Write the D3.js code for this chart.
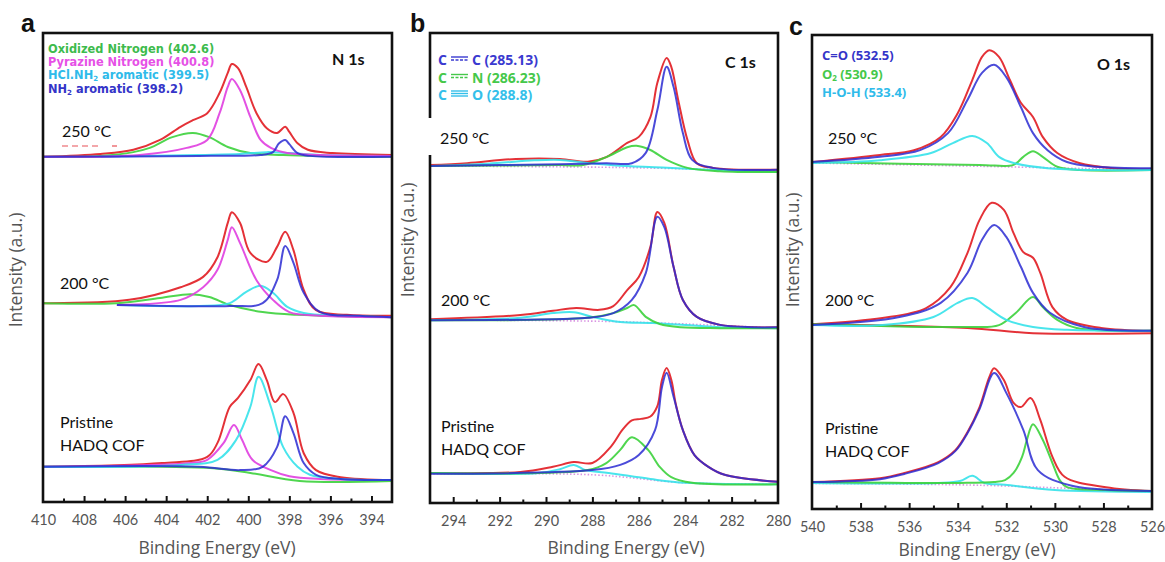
<!DOCTYPE html>
<html><head><meta charset="utf-8">
<script src="https://cdn.jsdelivr.net/npm/d3@7"></script>
<style>body{margin:0;background:#fff}svg{display:block}</style>
</head><body><svg id="chart" width="1165" height="562"></svg>
<script>
// ---------- tick labels ----------
const nTickLabels = [410,408,406,404,402,400,398,396,394];
const cTickLabels = [294,292,290,288,286,284,282,280];
const oTickLabels = [540,538,536,534,532,530,528,526];

// ---------- panel a : N 1s  [binding energy, intensity] ----------
const a250Red = [[410,73.6],[407.2,74.2],[405.6,75.1],[404.3,77.2],[403.3,80.0],[402.7,81.4],[402.0,82.9],[401.4,87.2],[401.0,91.5],[400.8,93.4],[400.5,92.5],[400.1,88.5],[399.6,82.9],[399.1,79.7],[398.6,78.7],[398.2,80.0],[398.0,78.9],[397.6,76.5],[397.1,75.1],[395.9,74.4],[393,74.0]];
const a250Green = [[410,73.6],[407.2,73.8],[405.6,74.6],[404.8,75.5],[403.7,77.8],[402.7,78.7],[401.9,77.8],[401.0,75.7],[399.9,74.4],[398.3,74.0],[393,73.6]];
const a250Magenta = [[410,73.6],[405.3,74.0],[403.0,75.5],[402.0,77.2],[401.4,82.9],[401.0,88.5],[400.8,90.2],[400.4,87.8],[399.9,82.1],[399.4,77.2],[398.9,75.5],[398.1,74.4],[396.5,74.0],[393,73.8]];
const a250Cyan = [[407.2,73.6],[402.4,74.0],[400.4,74.2],[399.1,74.6],[398.0,74.4],[396.5,74.0],[393,73.8]];
const a250Blue = [[410,73.6],[402.4,73.8],[399.4,74.0],[398.8,74.6],[398.5,76.5],[398.2,77.2],[398.0,76.3],[397.6,74.4],[397.0,73.8],[393,73.6]];

const a200Red = [[410,42.4],[405.8,43.1],[403.3,45.8],[402.2,48.0],[401.5,52.2],[401.0,59.5],[400.8,61.8],[400.4,59.5],[399.9,53.1],[399.1,51.2],[398.6,54.4],[398.2,57.6],[397.8,53.7],[397.3,45.2],[396.7,40.9],[395.2,39.9],[393,39.7]];
const a200Green = [[410,42.4],[406.4,42.4],[404.3,43.5],[402.8,44.3],[401.9,43.7],[400.9,42.0],[399.3,40.5],[397.6,39.9],[393,39.4]];
const a200Magenta = [[406.4,42.0],[403.3,43.1],[402.2,45.8],[401.5,49.5],[401.0,55.9],[400.8,58.6],[400.4,55.2],[399.6,47.3],[398.8,43.1],[398.0,40.5],[396.5,39.7],[393,39.4]];
const a200Cyan = [[406.4,42.0],[402.4,41.8],[400.9,42.4],[400.1,44.8],[399.4,46.1],[398.8,44.6],[398.1,41.6],[397.3,40.3],[395.5,39.7],[393,39.4]];
const a200Blue = [[406.4,42.0],[400.9,41.8],[399.3,42.4],[398.6,47.3],[398.2,54.6],[397.8,51.0],[397.3,44.6],[396.5,40.5],[394.6,39.7],[393,39.4]];

const a0Red = [[410,7.5],[404.2,8.3],[402.0,9.6],[401.5,12.6],[400.9,20.3],[400.5,22.2],[399.9,26.0],[399.5,29.4],[399.1,26.0],[398.7,21.3],[398.3,23.0],[397.8,19.0],[397.3,10.4],[396.7,6.8],[395.5,5.3],[393,4.7]];
const a0Green = [[410,7.5],[401.7,7.2],[399.9,6.2],[397.5,4.5],[393,4.5]];
const a0Magenta = [[410,7.5],[402.8,8.3],[402.0,9.0],[401.2,12.6],[400.7,16.4],[400.3,13.2],[399.8,9.0],[398.9,6.8],[398.0,5.5],[396.5,4.9],[393,4.7]];
const a0Cyan = [[410,7.5],[403.3,7.9],[401.5,9.0],[400.6,13.2],[399.9,20.3],[399.5,26.7],[398.9,20.3],[398.3,11.7],[397.6,7.5],[397.0,5.8],[395.5,4.9],[393,4.7]];
const a0Blue = [[410,7.5],[402.4,7.5],[400.4,6.8],[399.3,7.5],[398.6,11.7],[398.2,18.3],[397.8,14.7],[397.3,8.3],[396.7,5.8],[395.5,4.9],[393,4.7]];

// ---------- panel b : C 1s ----------
const b250Red = [[295,71.9],[293.4,72.3],[291.3,73.2],[289.4,73.2],[288.2,72.6],[287.4,73.6],[286.5,76.6],[286.0,77.9],[285.5,82.1],[285.2,89.4],[284.8,94.7],[284.6,92.8],[284.3,85.7],[283.9,77.2],[283.5,72.3],[282.8,71.3],[280,70.9]];
const b250Blue = [[295,71.7],[289.4,72.1],[287.4,72.3],[286.3,72.3],[285.7,74.5],[285.2,83.6],[284.8,92.8],[284.5,88.5],[284.1,78.7],[283.7,73.0],[282.8,71.3],[280,70.9]];
const b250Green = [[295,71.7],[289.4,71.9],[288.4,71.9],[287.4,73.6],[286.5,75.7],[286.1,76.0],[285.5,75.1],[284.8,73.0],[283.9,71.3],[282.5,70.6],[280,70.4]];
const b250Cyan = [[295,71.7],[292.5,72.2],[290.5,72.9],[289.4,73.0],[288.3,72.4],[287,71.8],[285,71.4],[283,70.9],[280,70.4]];
const b250Base = [[295,71.7],[287,71.4],[280,70.6]];

const b200Red = [[295,39.1],[291.1,40.0],[289.7,40.9],[288.7,41.5],[287.7,41.1],[287.1,41.9],[286.5,45.3],[286.0,48.1],[285.5,54.5],[285.2,61.9],[284.9,59.6],[284.5,50.2],[284.1,43.2],[283.5,39.6],[282.5,37.9],[281.1,37.4],[280,37.4]];
const b200Blue = [[295,38.9],[291,39.0],[288.2,39.4],[287.1,40.4],[286.3,43.2],[285.7,48.9],[285.2,60.9],[284.9,58.7],[284.5,50.2],[284.1,43.2],[283.5,39.6],[282.5,37.9],[281.1,37.4],[280,37.4]];
const b200Green = [[295,38.9],[288.2,39.4],[287.1,40.4],[286.5,41.5],[286.2,42.1],[285.7,39.6],[285.1,38.1],[284.2,37.4],[282.5,37.2],[280,37.2]];
const b200Cyan = [[295,38.9],[291.1,39.4],[289.7,40.4],[288.8,40.6],[288.0,39.6],[286.8,38.5],[285.4,38.3],[282.5,37.4],[280,37.2]];
const b200Base = [[295,38.9],[287,38.6],[280,37.2]];

const b0Red = [[295,6.4],[291.1,6.6],[289.7,7.7],[288.8,8.7],[288.0,8.5],[287.2,12.0],[286.7,15.6],[286.3,17.6],[285.9,17.9],[285.5,18.4],[285.2,20.6],[285.0,26.2],[284.8,28.7],[284.6,26.2],[284.4,20.9],[284.1,15.5],[283.6,10.2],[283.0,7.7],[282.3,6.0],[280,4.5]];
const b0Blue = [[295,6.2],[288.0,7.0],[286.8,8.1],[286.0,10.2],[285.3,15.5],[285.0,24.7],[284.8,27.7],[284.5,22.6],[284.1,15.5],[283.6,10.2],[283.0,7.7],[282.3,6.0],[280,4.5]];
const b0Green = [[295,6.4],[288.2,7.0],[287.4,8.5],[286.8,11.3],[286.3,14.0],[285.6,11.3],[285.1,7.7],[284.6,5.5],[283.7,4.3],[280,4.0]];
const b0Cyan = [[295,6.4],[290.3,6.4],[289.4,7.2],[288.8,8.1],[288.3,7.0],[287.3,6.4],[285.5,5.1],[284.0,4.3],[280,4.0]];
const b0Base = [[295,6.2],[288,6.0],[284,4.3],[280,4.0]];

// ---------- panel c : O 1s ----------
const c250Red = [[540,73.2],[537.2,74.7],[535.8,75.7],[534.7,78.5],[534.0,83.5],[533.4,90.5],[533.0,95.4],[532.7,96.8],[532.3,95.4],[531.85,90.5],[531.4,85.7],[530.9,82.7],[530.5,78.5],[529.9,75.1],[529.0,73.0],[527.6,71.9],[526,71.7]];
const c250Blue = [[540,73.2],[537.2,74.3],[535.55,75.7],[534.4,79.3],[533.6,86.3],[533.0,92.0],[532.5,93.7],[532.0,91.1],[531.4,84.8],[530.9,79.3],[530.3,75.7],[529.5,73.2],[528.3,72.2],[526,71.9]];
const c250Cyan = [[540,73.0],[537.2,73.6],[535.1,75.1],[534.2,77.2],[533.4,78.7],[532.8,77.2],[532.3,74.3],[531.7,73.0],[530.3,71.9],[528.1,71.5],[526,71.5]];
const c250Green = [[540,73.2],[533.1,72.6],[531.7,72.6],[531.3,74.3],[530.9,75.5],[530.5,74.3],[529.9,72.2],[529.0,71.5],[526,71.5]];
const c250Base = [[540,73.0],[533,72.3],[526,71.5]];

const c200Red = [[540,39.0],[537.1,40.3],[535.3,42.4],[534.3,46.8],[533.6,54.0],[533.1,61.0],[532.6,64.6],[532.1,63.1],[531.7,58.2],[531.3,54.2],[530.9,53.0],[530.6,49.8],[530.1,42.6],[529.5,39.9],[528.1,38.2],[526,37.6]];
const c200Blue = [[540,38.8],[536.4,40.5],[534.7,43.5],[533.6,49.8],[533.0,56.8],[532.5,59.9],[532.0,57.4],[531.4,51.1],[530.9,45.6],[530.2,41.4],[528.8,38.4],[526,37.6]];
const c200Cyan = [[540,38.8],[537.1,38.8],[535.0,40.5],[534.0,43.5],[533.4,44.5],[532.8,42.6],[532.0,39.9],[530.9,38.4],[529.5,37.8],[526,37.6]];
const c200Green = [[540,39.0],[533.6,38.4],[532.3,38.8],[531.6,41.4],[530.9,44.7],[530.5,42.6],[529.9,39.9],[529.1,38.2],[526,37.6]];
const c200Bg = [[540,39.0],[533.6,38.2],[530.9,37.1],[526,37.1]];

const c0Red = [[540,5.7],[537.2,6.5],[536.2,7.6],[534.8,9.9],[534.1,12.4],[533.6,16.2],[533.1,21.5],[532.7,27.8],[532.5,29.7],[532.1,27.2],[531.7,22.4],[531.4,21.5],[531.0,23.4],[530.6,18.8],[530.1,11.0],[529.6,6.8],[527.9,4.6],[526,3.8]];
const c0Blue = [[540,5.7],[537.2,6.3],[536.2,7.4],[534.8,9.7],[534.1,12.2],[533.6,16.0],[533.1,21.1],[532.5,28.7],[532.0,24.5],[531.3,16.7],[530.7,8.2],[529.3,4.9],[526,3.8]];
const c0Green = [[540,5.7],[533.9,5.5],[532.5,5.7],[532.05,6.1],[531.7,7.6],[531.35,11.0],[531.15,14.6],[530.9,17.9],[530.5,14.6],[530.1,9.7],[529.8,6.1],[529.5,4.6],[527.9,4.0],[526,3.8]];
const c0Cyan = [[540,5.5],[534.8,5.5],[533.9,5.9],[533.4,7.0],[532.9,5.5],[532.05,5.1],[530.0,4.0],[526,3.6]];
const c0Base = [[540,5.4],[533,5.0],[526,3.6]];

// ---------- texts ----------
const sampleLabels = ['250 °C','200 °C','Pristine','HADQ COF'];
const nLegend = [[['Oxidized Nitrogen (402.6)']],[['Pyrazine Nitrogen (400.8)']],[['HCl.NH'],['2',true],[' aromatic (399.5)']],[['NH'],['2',true],[' aromatic (398.2)']]];
const cLegend = ['C (285.13)','N (286.23)','O (288.8)'];
const oLegend = [[['C=O (532.5)']],[['O'],['2',true],[' (530.9)']],[['H-O-H (533.4)']]];

// ---------- styles ----------
const COL = {red:'#e3262c', blue:'#2b2bd2', green:'#3cd23c', magenta:'#e03ee0', cyan:'#35e2ea', dot:'#d68be0'};
const TXT = {green:'#3dbb4c', magenta:'#e650e6', cyan:'#2fbbea', blue:'#3434c8'};
const FONT = 'Lato, "Open Sans", sans-serif';
const TFONT = '"Open Sans", Lato, sans-serif';
const LFONT = '"Open Sans", Lato, sans-serif';
const NFONT = '"DejaVu Sans", "Open Sans", sans-serif';

const svg = d3.select('#chart');

const panels = [
  {id:'a', left:43, right:392, top:33, bottom:502, domain:[410,393], labels:nTickLabels,
   majors:d3.range(408,393,-2), minors:d3.range(409,393,-2), title:'N 1s', titleX:332, titleY:65,
   letterX:21, letterY:32, yTitleX:22, yTitleY:270, xTitleX:217, xTitleY:554,
   states:[
     {curves:[[a250Red,'red'],[a250Green,'green'],[a250Cyan,'cyan'],[a250Magenta,'magenta'],[a250Blue,'blue']], text:[[62,137,0]]},
     {curves:[[a200Red,'red'],[a200Green,'green'],[a200Cyan,'cyan'],[a200Magenta,'magenta'],[a200Blue,'blue']], text:[[60,289,1]]},
     {curves:[[a0Red,'red'],[a0Green,'green'],[a0Magenta,'magenta'],[a0Cyan,'cyan'],[a0Blue,'blue']], text:[[60,428,2],[60,451,3]]}
   ]},
  {id:'b', left:430, right:778, top:33, bottom:503, domain:[295,280], labels:cTickLabels,
   majors:d3.range(294,281,-2), minors:d3.range(293,280,-2), title:'C 1s', titleX:725, titleY:68,
   letterX:410, letterY:32, yTitleX:414, yTitleY:240, xTitleX:626, xTitleY:554,
   states:[
     {curves:[[b250Base,'dot'],[b250Red,'red'],[b250Cyan,'cyan'],[b250Green,'green'],[b250Blue,'blue']], text:[[440,144,0]], box:true},
     {curves:[[b200Base,'dot'],[b200Red,'red'],[b200Cyan,'cyan'],[b200Green,'green'],[b200Blue,'blue']], text:[[441,306,1]]},
     {curves:[[b0Base,'dot'],[b0Red,'red'],[b0Cyan,'cyan'],[b0Green,'green'],[b0Blue,'blue']], text:[[441,432,2],[441,455,3]]}
   ]},
  {id:'c', left:812, right:1152, top:35, bottom:509, domain:[540,526], labels:oTickLabels,
   majors:d3.range(538,527,-2), minors:d3.range(539,526,-2), title:'O 1s', titleX:1097, titleY:70,
   letterX:789, letterY:35, yTitleX:799, yTitleY:250, xTitleX:977, xTitleY:556,
   states:[
     {curves:[[c250Base,'dot'],[c250Red,'red'],[c250Green,'green'],[c250Cyan,'cyan'],[c250Blue,'blue']], text:[[828,144,0]]},
     {curves:[[c200Bg,'red'],[c200Red,'red'],[c200Green,'green'],[c200Cyan,'cyan'],[c200Blue,'blue']], text:[[825,306,1]]},
     {curves:[[c0Base,'dot'],[c0Red,'red'],[c0Cyan,'cyan'],[c0Green,'green'],[c0Blue,'blue']], text:[[825,434,2],[825,457,3]]}
   ]}
];

panels.forEach(p => {
  const x = d3.scaleLinear().domain(p.domain).range([p.left, p.right]);
  const y = d3.scaleLinear().domain([0,100]).range([p.bottom, p.top]);
  const g = svg.append('g');
  const clipId = 'clip-' + p.id;
  svg.append('clipPath').attr('id', clipId).append('rect')
    .attr('x', p.left).attr('y', p.top).attr('width', p.right - p.left).attr('height', p.bottom - p.top);

  const line = d3.line().x(d => x(d[0])).y(d => y(d[1])).curve(d3.curveCatmullRom.alpha(0.5));
  const plot = g.append('g').attr('clip-path', `url(#${clipId})`);

  p.states.forEach(st => {
    st.curves.forEach(([data, c]) => {
      plot.append('path').datum(data).attr('d', line)
        .attr('fill', 'none')
        .attr('stroke', COL[c])
        .attr('stroke-width', c === 'dot' ? 1.6 : 2)
        .attr('stroke-dasharray', c === 'dot' ? '1.5,2' : null)
        .attr('stroke-opacity', c === 'blue' ? 0.85 : (c === 'red' ? 0.95 : 0.9))
        .attr('stroke-linejoin', 'round');
    });
  });

  // ticks (inward)
  const majorAx = g.append('g').attr('transform', `translate(0,${p.bottom})`)
    .call(d3.axisBottom(x).tickValues(p.majors).tickSize(-6).tickFormat(''));
  const minorAx = g.append('g').attr('transform', `translate(0,${p.bottom})`)
    .call(d3.axisBottom(x).tickValues(p.minors).tickSize(-3.5).tickFormat(''));
  [majorAx, minorAx].forEach(a => { a.select('.domain').remove(); a.selectAll('line').attr('stroke', '#111').attr('stroke-width', 2); });

  const labAx = g.append('g').attr('transform', `translate(0,${p.bottom})`)
    .call(d3.axisBottom(x).tickValues(p.labels).tickSize(0).tickPadding(13).tickFormat(d3.format('d')));
  labAx.select('.domain').remove();
  labAx.selectAll('text').attr('font-family', FONT).attr('font-size', 14.5).attr('fill', '#555');

  // frame
  g.append('rect').attr('x', p.left).attr('y', p.top).attr('width', p.right - p.left).attr('height', p.bottom - p.top)
    .attr('fill', 'none').attr('stroke', '#111').attr('stroke-width', 2.6);

  // sample labels
  p.states.forEach(st => {
    if (st.box) {
      const t0 = st.text[0];
      g.append('rect').attr('x', t0[0] - 14).attr('y', t0[1] - 26).attr('width', 72).attr('height', 37).attr('fill', '#fff');
    }
    st.text.forEach(([tx, ty, i]) => {
      g.append('text').attr('x', tx).attr('y', ty).text(sampleLabels[i])
        .attr('font-family', FONT).attr('font-size', 16).attr('fill', '#111');
    });
  });

  // panel title, letter, axis titles
  g.append('text').attr('x', p.titleX).attr('y', p.titleY).text(p.title)
    .attr('font-family', FONT).attr('font-weight', 700).attr('font-size', 16).attr('fill', '#111');
  g.append('text').attr('x', p.letterX).attr('y', p.letterY).text(p.id)
    .attr('font-family', '"Liberation Sans", Arial, sans-serif').attr('font-weight', 700).attr('font-size', 25).attr('fill', '#111');
  g.append('text').attr('x', p.xTitleX).attr('y', p.xTitleY).attr('text-anchor', 'middle').text('Binding Energy (eV)')
    .attr('font-family', TFONT).attr('font-size', 17.5).attr('fill', '#555');
  g.append('text').attr('transform', `translate(${p.yTitleX},${p.yTitleY}) rotate(-90)`).attr('text-anchor', 'middle')
    .text('Intensity (a.u.)').attr('font-family', TFONT).attr('font-size', 17.5).attr('fill', '#555');
  p.g = g;
});

// small red dashes under "250 °C" (panel a)
panels[0].g.append('line').attr('x1', 62).attr('x2', 98).attr('y1', 146).attr('y2', 146)
  .attr('stroke', COL.red).attr('stroke-width', 1.2).attr('stroke-dasharray', '6,4').attr('opacity', 0.8);
panels[0].g.append('line').attr('x1', 112).attr('x2', 117).attr('y1', 146).attr('y2', 146)
  .attr('stroke', COL.red).attr('stroke-width', 1.2).attr('opacity', 0.8);

// legends with subscripts
function richText(g, xx, yy, parts, color, size, fam) {
  const t = g.append('text').attr('x', xx).attr('y', yy).attr('font-family', fam).attr('font-weight', 700)
    .attr('font-size', size).attr('fill', color);
  parts.forEach(([s, sub], k) => {
    const ts = t.append('tspan').text(s);
    if (sub) ts.attr('font-size', size * 0.62).attr('dy', 2);
    else if (k > 0) ts.attr('dy', -2);
  });
}
const nCols = [TXT.green, TXT.magenta, TXT.cyan, TXT.blue];
nLegend.forEach((parts, i) => richText(panels[0].g, 48, 53 + i * 13.2, parts, nCols[i], 11.4, NFONT));

const oCols = [TXT.blue, '#45c84a', TXT.cyan];
oLegend.forEach((parts, i) => richText(panels[2].g, 822, 60 + i * 18.5, parts, oCols[i], 13, LFONT));

const cCols = ['#3a3ad0', '#45c84a', '#34bfea'];
cLegend.forEach((lab, i) => {
  const gy = 65 + i * 17.5;
  const gb = panels[1].g;
  gb.append('text').attr('x', 438).attr('y', gy).text('C').attr('font-family', LFONT).attr('font-weight', 700)
    .attr('font-size', 14).attr('fill', cCols[i]);
  gb.append('text').attr('x', 472).attr('y', gy).text(lab)
    .attr('font-family', LFONT).attr('font-weight', 700).attr('font-size', 14).attr('fill', cCols[i]);
  const ys = i < 2 ? [gy - 8, gy - 5] : [gy - 9, gy - 6.5, gy - 4];
  ys.forEach((yy, k) => {
    gb.append('line').attr('x1', 451).attr('x2', 468).attr('y1', yy).attr('y2', yy)
      .attr('stroke', cCols[i]).attr('stroke-width', 1.4)
      .attr('stroke-dasharray', (i < 2 && k === 1) ? '3,1.5' : null);
  });
});
</script></body></html>
